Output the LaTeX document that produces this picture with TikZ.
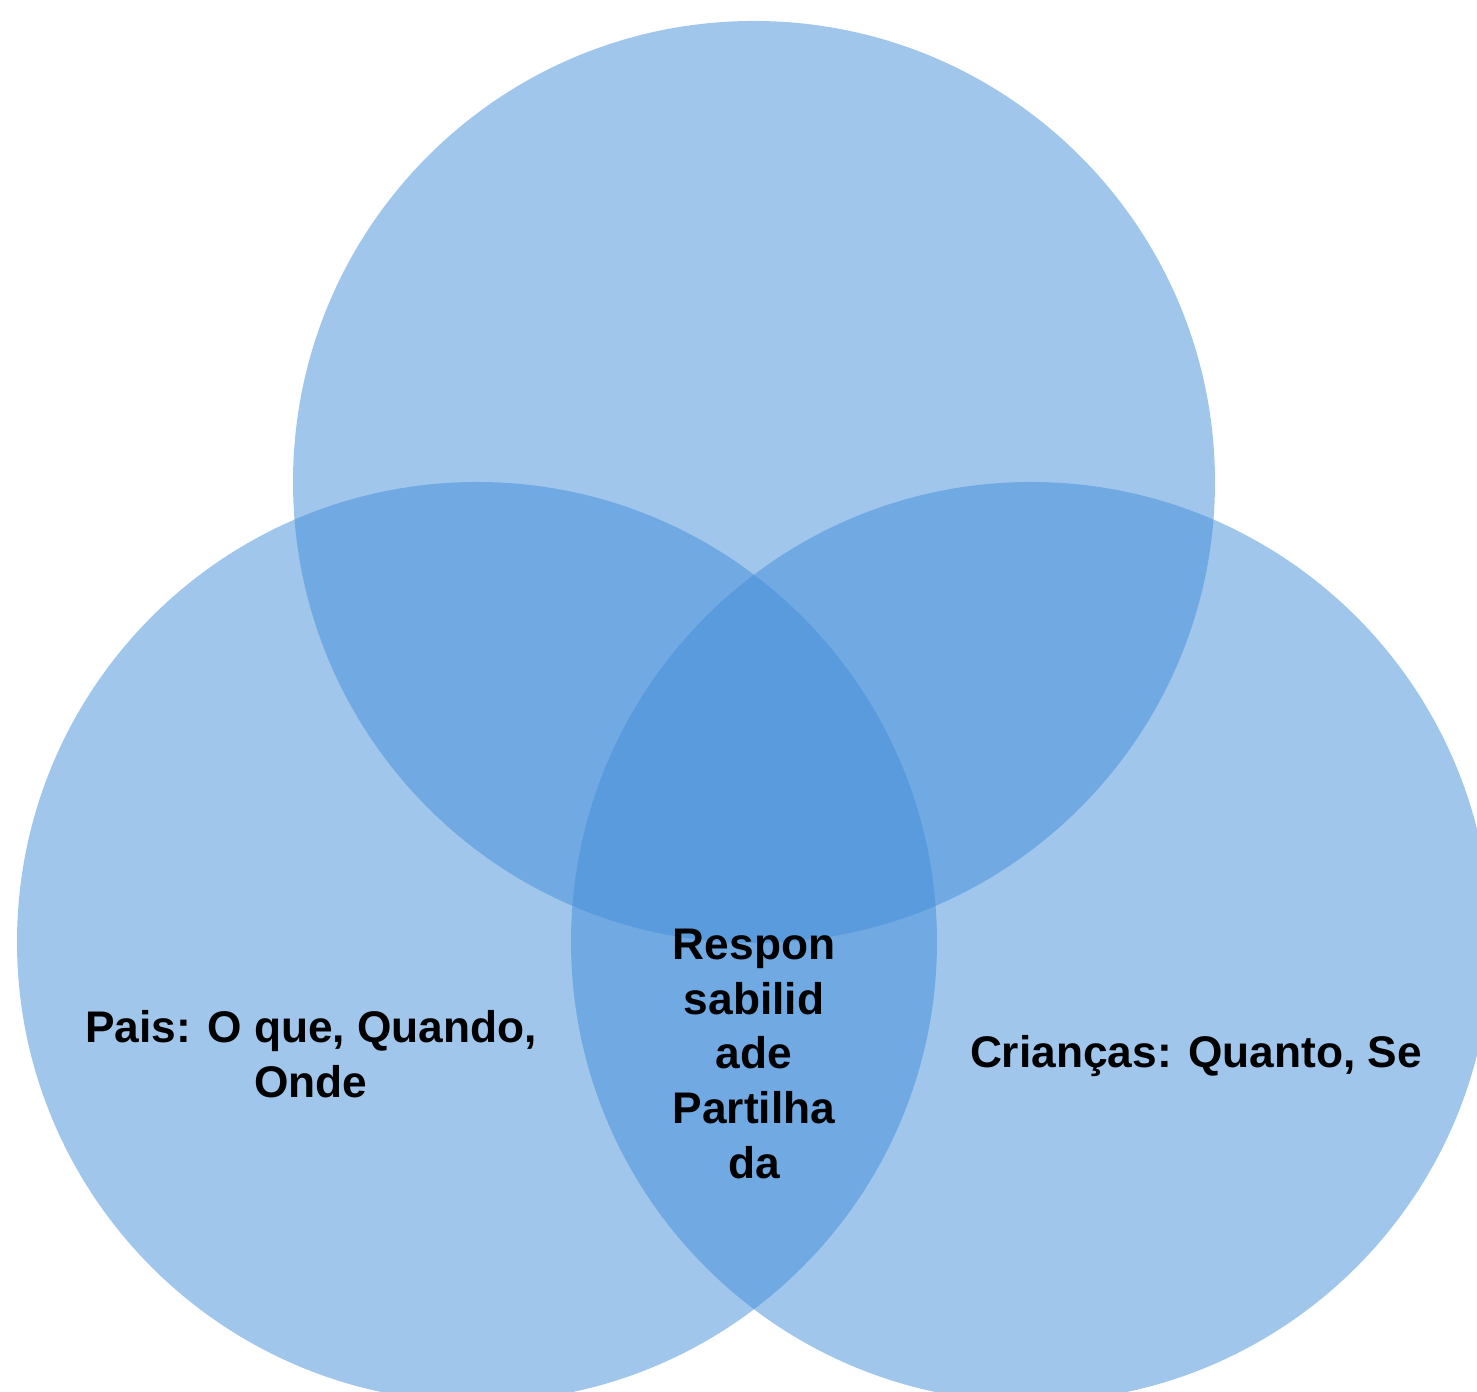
\documentclass[tikz,border=0pt]{standalone}
\usepackage{fontspec}
\setmainfont{Liberation Sans}
\definecolor{setblue}{RGB}{67,141,217}
\tikzset{
  >=latex,
}
\tikzstyle{set}=[fill=setblue,fill opacity=.5]
\tikzstyle{label}=[align=center,font=\fontsize{12.6}{15.6}\selectfont\bfseries]

\begin{document}
\begin{tikzpicture}
    \useasboundingbox (0,0) rectangle (14.77,13.92);
    \clip (0,0) rectangle (14.77,13.92);
    \fill[set] (7.54,9.10) circle (4.61);
    \fill[set] (4.77,4.50) circle (4.60);
    \fill[set] (10.31,4.50) circle (4.60);
    \node[label] (pais) at (3.11,3.38) {Pais: O que, Quando,\\Onde};
    \node[label] (criancas) at (11.96,3.36) {Crianças: Quanto, Se};
    \node[label] (partilha) at (7.54,3.38) {Respon\\sabilid\\ade\\Partilha\\da};
  \end{tikzpicture}
\end{document}
